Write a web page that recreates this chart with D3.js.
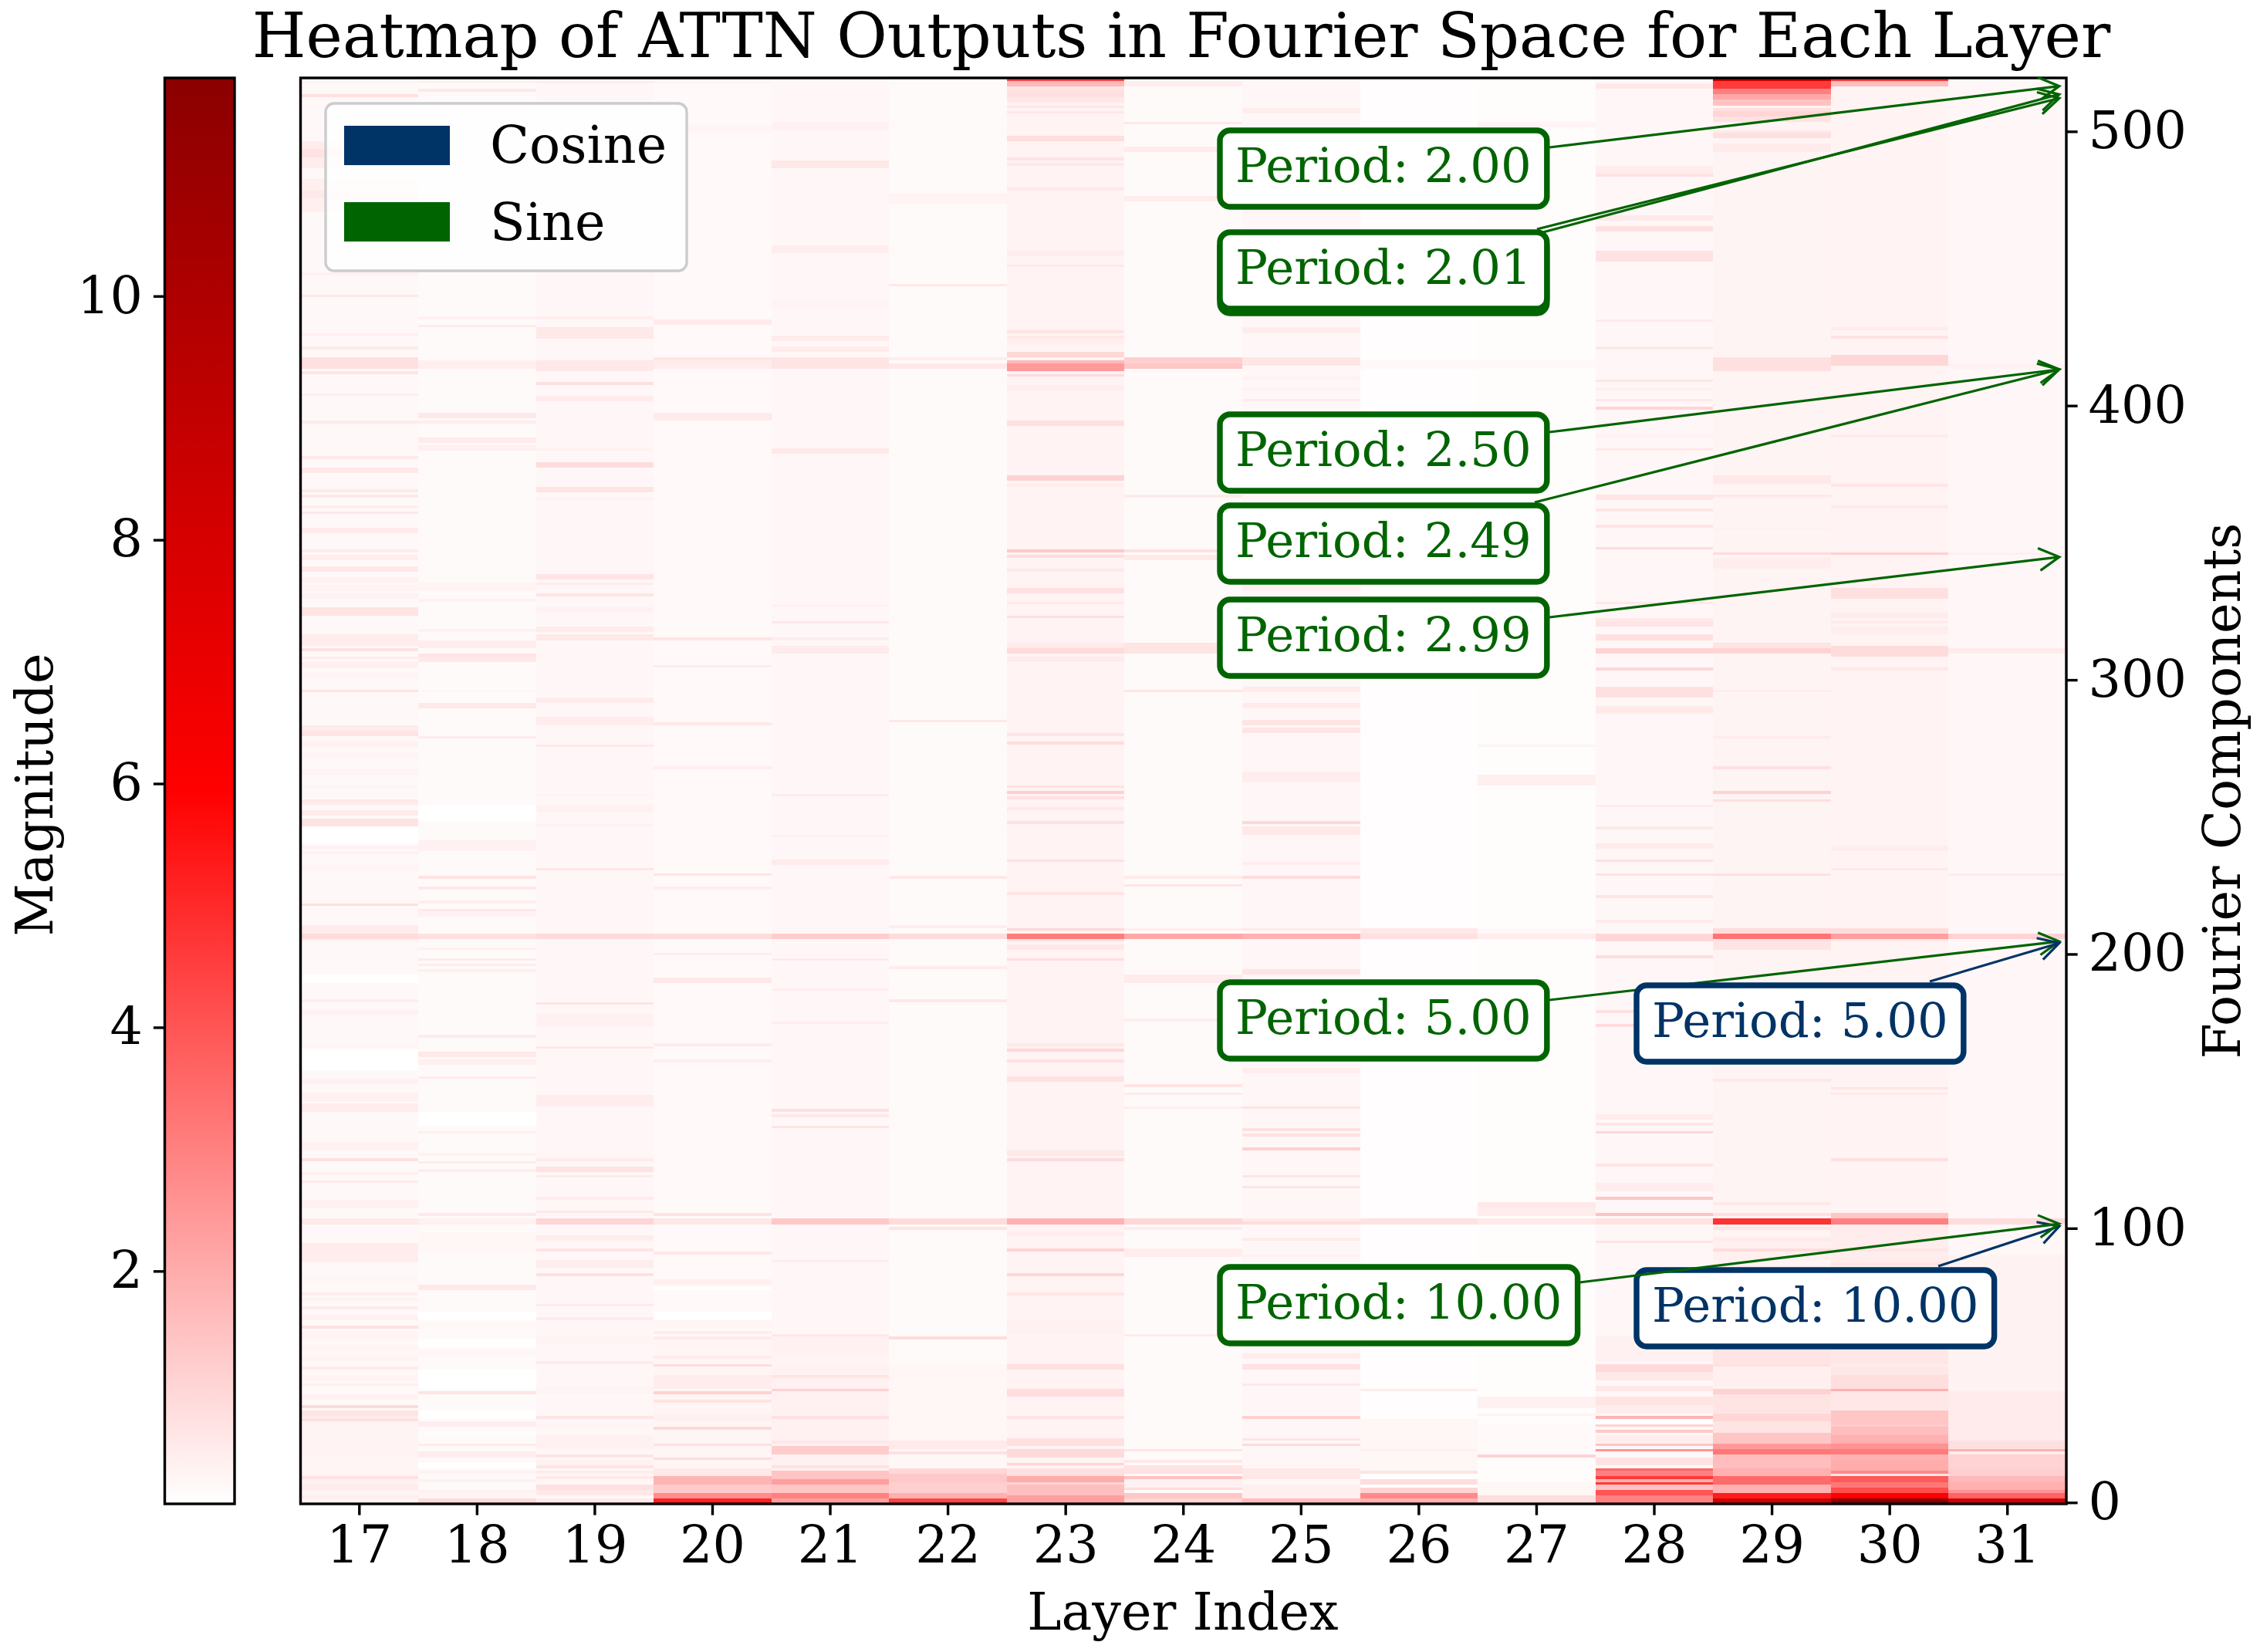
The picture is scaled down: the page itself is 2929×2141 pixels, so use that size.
<!DOCTYPE html>
<html>
<head>
<meta charset="utf-8">
<script src="https://cdn.jsdelivr.net/npm/d3@7"></script>
<style>
  html, body { margin: 0; padding: 0; background: #fff; }
  text { font-family: "DejaVu Serif", serif; fill: #000; }
</style>
</head>
<body>
<div id="chart"></div>
<script>
// chart values
var layers = [17, 18, 19, 20, 21, 22, 23, 24, 25, 26, 27, 28, 29, 30, 31];
var yTicks = [0, 100, 200, 300, 400, 500];
var colorTicks = [2, 4, 6, 8, 10];
var magMin = 0.09, magMax = 11.79;
var componentCount = 520;

// background magnitude of each layer
var layerBase = [.26, .2, .28, .22, .28, .2, .36, .2, .28, .14, .16, .28, .34, .36, .28];

// bands of each layer: [first component, last component, magnitude]
var layer17 = [[0,30,.34],[0,0,.45],[2,2,.5],[5,6,.55],[7,8,.4],[9,9,.78],[12,16,.32],[17,22,.36],[30,30,.85],[31,31,.55],[32,33,.7],[35,35,.95],[38,39,.4],[43,43,.45],[45,46,.36],[49,49,.55],[52,53,.36],[56,57,.36],[60,62,.36],[64,64,.8],[67,68,.42],[71,71,.55],[74,74,.42],[76,76,.5],[81,82,.32],[88,93,.5],[94,94,.55],[102,103,.6],[108,110,.42],[117,117,.55],[120,120,.45],[125,125,.8],[129,131,.42],[143,144,.55],[145,145,.5],[147,149,.42],[153,154,.42],[158,165,.06],[166,167,.32],[178,179,.42],[183,183,.5],[190,192,.1],[205,205,.42],[206,207,.9],[208,210,.55],[218,218,.8],[231,232,.36],[237,237,.42],[239,239,.42],[241,246,.1],[247,249,.75],[251,252,.55],[255,255,.55],[256,256,.62],[261,261,.36],[266,267,.36],[272,273,.36],[276,277,.42],[280,281,.7],[282,283,.55],[287,287,.3],[296,296,.7],[301,302,.36],[305,306,.45],[308,308,.55],[311,311,.8],[313,316,.5],[324,326,.7],[330,331,.42],[333,334,.36],[336,337,.42],[340,341,.62],[344,345,.5],[347,347,.55],[354,355,.55],[361,361,.62],[363,363,.5],[367,367,.62],[369,369,.6],[376,377,.62],[381,381,.62],[394,394,.55],[404,404,.45],[412,412,.68],[414,417,.8],[421,421,.6],[426,426,.45],[440,440,.6],[448,448,.42],[471,482,.45],[476,478,.62],[487,496,.5],[491,493,.75],[513,513,.8],[518,518,.36]];
var layer18 = [[0,1,.95],[2,3,.32],[4,4,.42],[8,8,.42],[11,11,.4],[13,14,.05],[17,18,.5],[21,21,.55],[25,25,.15],[28,29,.5],[31,33,.1],[40,40,.7],[42,43,.1],[43,48,.03],[54,55,.32],[57,59,.03],[64,65,.3],[67,69,.05],[78,79,.62],[92,98,.3],[102,103,.42],[105,105,.62],[121,121,.5],[124,124,.55],[127,127,.42],[135,135,.5],[138,142,.03],[155,155,.55],[160,161,.45],[163,164,.62],[170,170,.55],[176,180,.2],[194,194,.45],[196,196,.5],[198,198,.55],[202,202,.42],[206,207,.8],[214,215,.4],[216,216,.62],[219,219,.5],[224,224,.62],[228,228,.7],[238,241,.4],[249,254,.03],[279,279,.55],[290,291,.62],[296,296,.3],[307,308,.62],[309,309,.7],[312,314,.5],[318,318,.42],[329,329,.42],[333,335,.36],[384,385,.45],[387,388,.55],[394,394,.5],[396,397,.62],[414,416,.45],[429,429,.55],[432,432,.42],[508,508,.3],[515,515,.62],[518,518,.42]];
var layer19 = [[0,1,.6],[3,4,.62],[5,6,.8],[9,9,.6],[11,11,.55],[13,13,.7],[14,15,.42],[17,17,.7],[20,24,.4],[28,28,.36],[31,31,.7],[40,42,.34],[51,51,.55],[58,60,.34],[67,67,.55],[72,72,.55],[83,83,.8],[86,88,.5],[92,92,.7],[96,97,.5],[102,103,1.05],[106,106,.62],[111,111,.55],[119,119,.55],[121,122,.75],[125,125,.55],[145,148,.5],[166,166,.62],[174,178,.42],[182,182,.7],[206,207,.95],[231,231,.68],[247,247,.42],[252,254,.4],[258,258,.36],[276,276,.6],[284,286,.5],[292,293,.55],[315,316,.62],[318,319,.55],[325,326,.42],[331,331,.7],[335,335,.55],[337,338,.7],[366,366,.42],[369,370,.7],[378,379,.9],[384,384,.42],[402,403,.55],[408,408,.8],[413,416,.62],[425,428,.62],[432,432,.5],[496,497,.42],[518,518,.5]];
var layer20 = [[10,60,.32],[0,1,5.2],[2,3,2.7],[4,6,1.3],[7,9,1.8],[10,12,.62],[16,16,.9],[21,21,.8],[27,27,1],[30,32,.42],[37,37,.7],[40,40,1.15],[42,46,.5],[50,50,.9],[53,53,.55],[60,60,.55],[62,62,.5],[64,66,.32],[67,69,.03],[78,78,.1],[80,81,.45],[91,91,.62],[102,103,.62],[105,105,.75],[161,161,.5],[167,167,.55],[190,191,.62],[200,200,.5],[206,207,.9],[224,224,.5],[229,229,.7],[268,268,.5],[284,284,.62],[305,305,.55],[315,315,.7],[395,397,.55],[414,415,.5],[416,416,.55],[417,417,.68],[430,431,.55],[500,502,.32],[518,518,.36]];
var layer21 = [[10,60,.4],[0,1,2.3],[2,3,3],[4,6,1.4],[7,8,2.3],[9,11,1.45],[13,13,.75],[18,20,1.25],[22,22,.65],[31,31,.8],[41,41,1.15],[46,46,.7],[50,54,.36],[61,61,.62],[88,88,.5],[102,103,1.35],[137,137,.7],[141,141,.62],[143,143,.8],[175,175,.5],[187,187,.5],[198,198,.55],[206,207,1.25],[233,234,.55],[243,243,.45],[258,258,.55],[310,312,.55],[315,315,.5],[321,321,.62],[327,327,.42],[383,384,.62],[414,417,.72],[420,421,.55],[424,425,.55],[436,438,.36],[456,458,.5],[487,489,.62],[501,503,.42]];
var layer22 = [[12,50,.3],[0,1,4.4],[2,3,1.9],[4,7,1.2],[8,10,1.35],[11,12,1],[14,16,.3],[18,18,.8],[20,22,.6],[60,60,.9],[100,100,.7],[102,103,.9],[183,183,.62],[195,195,.55],[206,207,.9],[210,210,.5],[228,228,.62],[285,285,.62],[414,415,.62],[417,417,.5],[444,444,.62],[474,477,.36]];
var layer23 = [[0,2,2.3],[3,6,1.55],[7,7,1.1],[8,9,2],[10,12,.8],[14,14,1.05],[17,19,.95],[21,23,.8],[31,31,.75],[39,41,.88],[49,50,.8],[62,66,.42],[76,76,.68],[83,83,1],[92,92,1.1],[98,98,.55],[102,103,1.85],[125,125,.9],[127,128,.62],[154,155,.75],[161,161,.8],[165,165,1],[167,167,.62],[198,198,.85],[202,203,.62],[205,205,.75],[206,207,3.1],[209,209,1],[222,222,.7],[234,234,.8],[248,248,.8],[253,253,.62],[257,257,.8],[259,259,1.2],[261,261,.75],[277,277,.9],[280,280,.7],[307,308,.55],[310,311,.95],[312,313,.55],[323,323,.8],[328,328,.62],[332,333,.8],[340,340,.62],[345,345,.9],[347,347,1.3],[371,371,.5],[373,374,1.1],[393,394,.8],[406,407,.5],[411,411,.9],[413,415,2.4],[416,416,1.7],[418,419,1],[423,424,.45],[425,425,.62],[427,427,.7],[451,451,.62],[455,456,.5],[479,479,.62],[488,488,.62],[490,490,.7],[497,498,.85],[507,507,.62],[509,509,.68],[511,512,.62],[513,514,.8],[515,516,.7],[517,518,1.7],[519,519,4.3]];
var layer24 = [[0,1,1],[2,3,1.4],[5,5,.9],[6,8,.4],[9,9,1.45],[11,13,.75],[15,15,.62],[19,19,.7],[61,61,.55],[90,92,.5],[100,100,.5],[102,103,1],[144,144,.5],[149,149,.55],[152,152,.7],[176,176,.5],[190,192,.55],[206,207,2.1],[209,209,.5],[225,225,.68],[228,228,.55],[296,296,.7],[310,313,.7],[344,345,.6],[347,347,.8],[367,367,.55],[414,415,1.4],[416,417,1.2],[475,476,.5],[493,494,.55],[503,503,.62],[517,518,.5]];
var layer25 = [[0,1,1.6],[2,6,.45],[9,12,.62],[21,21,.95],[23,23,.7],[31,31,1.2],[43,43,.62],[49,50,.75],[53,54,.5],[90,90,.42],[96,96,.55],[102,102,.9],[103,103,.55],[115,115,.68],[119,119,.7],[129,129,1.2],[134,134,.8],[136,136,.8],[144,144,.7],[157,158,.5],[193,194,.7],[206,207,1.9],[209,209,.62],[228,228,.9],[233,233,.5],[244,246,.62],[248,248,1],[263,266,.5],[281,282,.7],[284,285,.7],[290,291,.55],[296,297,.55],[333,334,.42],[402,402,.55],[406,406,.42],[410,410,.42],[415,417,.68],[427,428,.5],[470,472,.36],[507,508,.5],[516,518,.3]];
var layer26 = [[0,1,1.9],[2,3,2.8],[4,5,1.1],[7,8,.85],[11,11,.7],[12,30,.3],[19,19,.45],[41,41,.5],[102,103,.75],[206,207,.8],[208,209,.62],[414,416,.25]];
var layer27 = [[0,2,.85],[3,7,.3],[17,17,1.1],[18,28,.22],[32,32,.36],[35,38,.42],[102,103,.6],[105,107,.5],[108,109,.62],[206,207,.5],[208,209,.25],[262,265,.45],[276,276,.36],[414,416,.25],[502,503,.36]];
var layer28 = [[0,2,3],[3,4,4],[5,6,1.5],[7,7,4.6],[8,8,1.9],[9,9,4.6],[10,11,3],[12,12,3.6],[14,16,.75],[19,19,2.5],[21,21,1.45],[22,24,.5],[26,26,1.35],[28,28,1.1],[31,31,1.8],[29,30,.05],[33,35,.5],[36,38,.7],[41,42,.62],[45,47,.62],[48,50,.95],[52,60,.42],[95,95,.7],[102,103,.75],[105,105,1.5],[111,111,1.4],[114,116,.5],[123,123,.68],[135,135,1],[138,138,.68],[140,141,.5],[174,174,.9],[179,179,.8],[199,199,.9],[205,207,1],[212,212,.55],[221,221,.7],[229,229,.75],[234,234,.8],[239,240,.55],[246,246,.62],[254,254,.55],[288,290,.6],[294,295,.8],[296,297,.8],[304,304,1],[310,311,1.1],[315,316,.8],[320,321,.7],[322,322,.62],[328,328,.62],[348,348,.9],[356,356,.7],[362,362,.68],[366,367,.68],[384,384,.6],[389,389,.42],[399,399,1.05],[402,402,.62],[406,406,.45],[409,409,.68],[421,421,.62],[431,431,.6],[453,456,.75],[464,465,.8],[468,469,.6],[484,484,.8],[485,487,.5],[516,517,.62]];
var layer29 = [[60,95,.45],[0,60,.7],[0,1,8.2],[2,3,5.3],[4,6,1.9],[7,9,3.5],[10,12,1.9],[13,17,1.6],[18,19,3.2],[20,21,2.4],[22,25,1.4],[30,32,1],[40,41,1.15],[42,49,.45],[50,50,.8],[87,88,.36],[92,92,.9],[96,96,.6],[100,100,.7],[102,103,4.8],[105,105,.8],[109,109,.62],[154,154,.62],[202,205,.7],[206,207,3.3],[208,209,.9],[229,229,.8],[256,256,.8],[259,259,1.15],[268,268,.8],[279,279,.55],[296,296,.5],[310,311,1.1],[312,313,.7],[341,344,.5],[346,346,.95],[355,355,.42],[367,367,.62],[372,374,.62],[413,417,.8],[493,495,.55],[498,499,.8],[500,500,.6],[504,505,.75],[506,507,1.05],[508,508,.85],[510,511,1.5],[512,513,2.1],[514,515,3],[516,518,4.6],[519,519,8.8]];
var layer30 = [[60,100,.5],[0,60,.65],[0,1,11.79],[2,3,6],[4,5,4.2],[6,7,3.2],[8,9,3.9],[11,11,2.8],[12,15,2],[16,17,1.9],[18,19,3.1],[20,21,2.6],[22,24,1.9],[25,27,1.6],[28,28,1.3],[29,33,1.4],[41,41,1.9],[42,46,.85],[50,50,.5],[87,87,.7],[92,92,.7],[99,101,.55],[102,103,3],[104,105,1.4],[125,125,.8],[149,149,.6],[151,151,.7],[205,205,.62],[206,207,2.3],[208,209,.9],[231,231,.62],[238,239,.5],[304,304,.62],[309,312,.9],[317,319,.5],[321,321,.62],[323,324,.55],[330,333,.8],[346,346,1.2],[363,363,.6],[371,371,.68],[389,389,.55],[415,418,1],[425,425,.75],[428,428,.55],[517,518,1.6],[519,519,4.6]];
var layer31 = [[40,90,.38],[0,40,.55],[0,1,8.2],[2,3,3.7],[4,4,2.6],[5,7,1.9],[8,9,1.7],[10,12,1.2],[13,17,1.1],[19,19,1.9],[20,22,.8],[102,103,.9],[206,207,1.1],[229,229,.55],[310,311,.55],[346,346,.45],[414,415,.42]];

// annotations: period, wave type, component the arrow points at
var notePeriods = ["2.00", "2.01", "2.01", "2.50", "2.49", "2.99", "10.00", "10.00", "5.00", "5.00"];
var noteWaves = ["sine", "sine", "sine", "sine", "sine", "sine", "cosine", "sine", "sine", "cosine"];
var noteTargets = [516.5, 513.5, 512.1, 413.2, 413.2, 344.8, 100.7, 101.6, 204.6, 204];

var svgWidth = 2929;
var svgHeight = 2141;
var plot = { left: 389.5, right: 2678, top: 101, bottom: 1949 };
var bar = { left: 213.5, right: 304, top: 101, bottom: 1949 };

// where the label boxes and arrow starts sit on the page
var noteBoxes = [
  { x: 1581, y: 169, sx: 2008, sy: 191 },
  { x: 1581, y: 307, sx: 1996, sy: 302 },
  { x: 1581, y: 301, sx: 1992, sy: 297 },
  { x: 1581, y: 537, sx: 2008, sy: 560 },
  { x: 1581, y: 655, sx: 1989, sy: 651 },
  { x: 1581, y: 777, sx: 2008, sy: 800 },
  { x: 2121, y: 1646, sx: 2512, sy: 1641 },
  { x: 1581, y: 1642, sx: 2047, sy: 1662 },
  { x: 1581, y: 1273, sx: 2008, sy: 1296 },
  { x: 2121, y: 1277, sx: 2501, sy: 1272 }
];
var waveColor = { cosine: "#003366", sine: "#006400" };

var svg = d3.select("#chart").append("svg")
  .attr("width", svgWidth)
  .attr("height", svgHeight)
  .style("display", "block");

var xScale = d3.scaleBand().domain(layers).range([plot.left, plot.right]);
var yScale = d3.scaleLinear().domain([-0.5, componentCount - 0.5]).range([plot.bottom, plot.top]);
var barScale = d3.scaleLinear().domain([magMin, magMax]).range([bar.bottom, bar.top]);
var color = d3.scaleLinear()
  .domain([magMin, (magMin + magMax) / 2, magMax])
  .range(["#ffffff", "#ff0000", "#8b0000"]);

// heatmap
var allBands = [layer17, layer18, layer19, layer20, layer21, layer22, layer23, layer24,
  layer25, layer26, layer27, layer28, layer29, layer30, layer31];

var heat = svg.append("g").attr("shape-rendering", "crispEdges");
layers.forEach(function (layer, i) {
  var rows = [[0, componentCount - 1, layerBase[i]]].concat(allBands[i]);
  heat.selectAll("rect.l" + layer)
    .data(rows)
    .enter()
    .append("rect")
    .attr("class", "l" + layer)
    .attr("x", xScale(layer))
    .attr("width", xScale.bandwidth())
    .attr("y", d => yScale(d[1] + 0.5))
    .attr("height", d => yScale(d[0] - 0.5) - yScale(d[1] + 0.5))
    .attr("fill", d => color(d[2]));
});

// frame
svg.append("rect")
  .attr("x", plot.left).attr("y", plot.top)
  .attr("width", plot.right - plot.left).attr("height", plot.bottom - plot.top)
  .attr("fill", "none").attr("stroke", "#000").attr("stroke-width", 3.4);

function styleAxis(g) {
  g.select(".domain").remove();
  g.selectAll(".tick line").attr("stroke", "#000").attr("stroke-width", 3.4);
  g.selectAll(".tick text").attr("font-size", 66.7).attr("font-family", "DejaVu Serif").attr("fill", "#000");
}

svg.append("g")
  .attr("transform", `translate(0, ${plot.bottom})`)
  .call(d3.axisBottom(xScale).tickSize(14.6).tickPadding(14))
  .call(styleAxis);

svg.append("g")
  .attr("transform", `translate(${plot.right}, 0)`)
  .call(d3.axisRight(yScale).tickValues(yTicks).tickSize(14.6).tickPadding(14))
  .call(styleAxis);

// colorbar
var defs = svg.append("defs");
var grad = defs.append("linearGradient")
  .attr("id", "magGrad")
  .attr("x1", 0).attr("x2", 0).attr("y1", 1).attr("y2", 0);
[0, 0.5, 1].forEach(function (t) {
  grad.append("stop")
    .attr("offset", t)
    .attr("stop-color", color(magMin + t * (magMax - magMin)));
});

svg.append("rect")
  .attr("x", bar.left).attr("y", bar.top)
  .attr("width", bar.right - bar.left).attr("height", bar.bottom - bar.top)
  .attr("fill", "url(#magGrad)")
  .attr("stroke", "#000").attr("stroke-width", 3.4);

svg.append("g")
  .attr("transform", `translate(${bar.left}, 0)`)
  .call(d3.axisLeft(barScale).tickValues(colorTicks).tickSize(14.6).tickPadding(14))
  .call(styleAxis);

// titles
svg.append("text")
  .attr("x", 1531).attr("y", 74)
  .attr("text-anchor", "middle").attr("font-size", 80)
  .text("Heatmap of ATTN Outputs in Fourier Space for Each Layer");

svg.append("text")
  .attr("x", 1533).attr("y", 2112)
  .attr("text-anchor", "middle").attr("font-size", 66.7)
  .text("Layer Index");

svg.append("text")
  .attr("transform", "translate(2903, 1025) rotate(-90)")
  .attr("text-anchor", "middle").attr("font-size", 66.7)
  .text("Fourier Components");

svg.append("text")
  .attr("transform", "translate(68, 1030) rotate(-90)")
  .attr("text-anchor", "middle").attr("font-size", 66.7)
  .text("Magnitude");

// legend
var legend = svg.append("g");
legend.append("rect")
  .attr("x", 422).attr("y", 134)
  .attr("width", 468).attr("height", 217)
  .attr("rx", 11).attr("ry", 11)
  .attr("fill", "#fff").attr("fill-opacity", 0.8)
  .attr("stroke", "#cccccc").attr("stroke-width", 3.4);

["cosine", "sine"].forEach(function (wave, i) {
  legend.append("rect")
    .attr("x", 446).attr("y", 163 + i * 99)
    .attr("width", 137).attr("height", 51)
    .attr("fill", waveColor[wave]);
  legend.append("text")
    .attr("x", 635).attr("y", 211 + i * 100)
    .attr("font-size", 66.7)
    .text(wave === "cosine" ? "Cosine" : "Sine");
});

// annotations
var notes = svg.append("g");
notePeriods.forEach(function (period, i) {
  var b = noteBoxes[i];
  var c = waveColor[noteWaves[i]];
  var tipX = xScale(31) + xScale.bandwidth() * 0.94;
  var tipY = yScale(noteTargets[i]);
  var a = Math.atan2(tipY - b.sy, tipX - b.sx);
  var arm = 30, spread = 29 * Math.PI / 180;

  var path = d3.path();
  path.moveTo(b.sx, b.sy);
  path.lineTo(tipX, tipY);
  path.moveTo(tipX - arm * Math.cos(a - spread), tipY - arm * Math.sin(a - spread));
  path.lineTo(tipX, tipY);
  path.lineTo(tipX - arm * Math.cos(a + spread), tipY - arm * Math.sin(a + spread));
  notes.append("path")
    .attr("d", path.toString())
    .attr("fill", "none")
    .attr("stroke", c)
    .attr("stroke-width", 3.2);

  var box = notes.append("rect");
  var label = notes.append("text")
    .attr("x", b.x + 20)
    .attr("y", b.y + 67)
    .attr("font-size", 62.5)
    .style("fill", c)
    .text("Period: " + period);
  var len = label.node().getComputedTextLength();
  box.attr("x", b.x).attr("y", b.y)
    .attr("width", len + 40).attr("height", 99)
    .attr("rx", 13).attr("ry", 13)
    .attr("fill", "#fff")
    .attr("stroke", c).attr("stroke-width", 7.4);
});
</script>
</body>
</html>
